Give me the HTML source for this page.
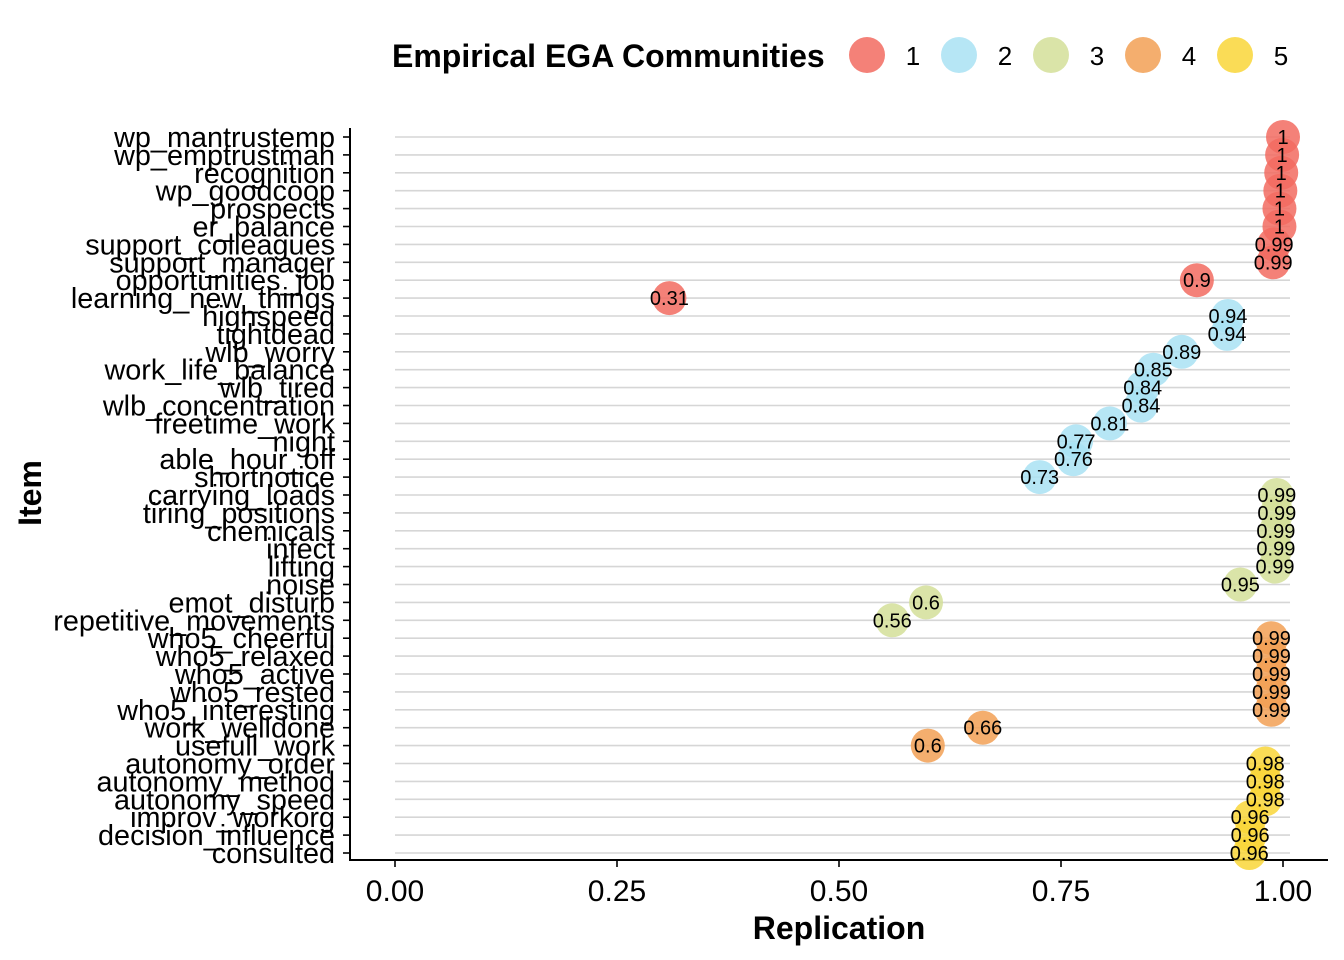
<!DOCTYPE html>
<html><head><meta charset="utf-8"><style>
html,body{margin:0;padding:0;background:#fff;}
svg{display:block;font-family:"Liberation Sans",Arial,sans-serif;}
</style></head><body>
<svg id="chart" width="1344" height="960"></svg>
<script>
const items=["wp_mantrustemp","wp_emptrustman","recognition","wp_goodcoop","prospects","er_balance","support_colleagues","support_manager","opportunities_job","learning_new_things","highspeed","tightdead","wlb_worry","work_life_balance","wlb_tired","wlb_concentration","freetime_work","night","able_hour_off","shortnotice","carrying_loads","tiring_positions","chemicals","infect","lifting","noise","emot_disturb","repetitive_movements","who5_cheerful","who5_relaxed","who5_active","who5_rested","who5_interesting","work_welldone","usefull_work","autonomy_order","autonomy_method","autonomy_speed","improv_workorg","decision_influence","consulted"];
const values=[1,0.999,0.998,0.997,0.996,0.996,0.99,0.989,0.903,0.309,0.938,0.937,0.886,0.854,0.842,0.84,0.805,0.767,0.764,0.726,0.993,0.993,0.992,0.992,0.991,0.952,0.598,0.56,0.987,0.987,0.987,0.987,0.987,0.662,0.6,0.98,0.98,0.98,0.963,0.963,0.962];
const communities=[1,1,1,1,1,1,1,1,1,1,2,2,2,2,2,2,2,2,2,2,3,3,3,3,3,3,3,3,4,4,4,4,4,4,4,5,5,5,5,5,5];
const xTicks=[0,0.25,0.5,0.75,1];
const xTickLabels=["0.00","0.25","0.50","0.75","1.00"];
const legendKeys=[1,2,3,4,5];
const colors={1:"#f26b60",2:"#a9e2f3",3:"#d3df99",4:"#f2a055",5:"#f9d638"};
const NS="http://www.w3.org/2000/svg";
const svg=document.getElementById("chart");
function el(t,a,p){const e=document.createElementNS(NS,t);for(const k in a)e.setAttribute(k,a[k]);(p||svg).appendChild(e);return e;}
const x=v=>395+v*888;
const y=i=>137+i*(716/(items.length-1));
items.forEach((it,i)=>{const g=el("line",{x1:395,x2:1290,y1:y(i),y2:y(i),stroke:"#d6d6d6","stroke-width":1.6});

});
const ya=el("line",{x1:350,x2:350,y1:128,y2:861,stroke:"#000","stroke-width":2});


const xa=el("line",{x1:349,x2:1328,y1:860,y2:860,stroke:"#000","stroke-width":2});


items.forEach((it,i)=>{
 const tk=el("line",{x1:343,x2:350,y1:y(i),y2:y(i),stroke:"#000","stroke-width":1.6});
 
 
 const t=el("text",{x:335,y:y(i)+10,"text-anchor":"end","font-size":28.8,fill:"#000"});t.textContent=it;
 
 
});
xTicks.forEach((v,i)=>{
 const tk=el("line",{x1:x(v),x2:x(v),y1:860,y2:867,stroke:"#000","stroke-width":1.6});
 
 
 const t=el("text",{x:x(v),y:901,"text-anchor":"middle","font-size":30,fill:"#000"});t.textContent=xTickLabels[i];
 
 
});
const xt=el("text",{x:839,y:939,"text-anchor":"middle","font-size":32,"font-weight":"bold"});xt.textContent="Replication";


const yt=el("text",{x:41,y:493,"text-anchor":"middle","font-size":32,"font-weight":"bold",transform:"rotate(-90 41 493)"});yt.textContent="Item";


values.forEach((v,i)=>{
 const c=el("circle",{cx:x(v),cy:y(i),r:17,fill:colors[communities[i]],"fill-opacity":0.85});
 
 
});
values.forEach((v,i)=>{
 const t=el("text",{x:x(v),y:y(i)+7,"text-anchor":"middle","font-size":20,fill:"#000"});t.textContent=String(Number(v.toFixed(2)));
 
 
});
const lt=el("text",{x:392,y:67,"font-size":32,"font-weight":"bold"});lt.textContent="Empirical EGA Communities";


legendKeys.forEach((k,i)=>{
 const cx=867+i*92;
 const c=el("circle",{cx:cx,cy:55,r:18,fill:colors[k],"fill-opacity":0.85});
 
 
 const t=el("text",{x:cx+46,y:65,"text-anchor":"middle","font-size":26});t.textContent=String(k);
 
 
});
</script>
</body></html>
